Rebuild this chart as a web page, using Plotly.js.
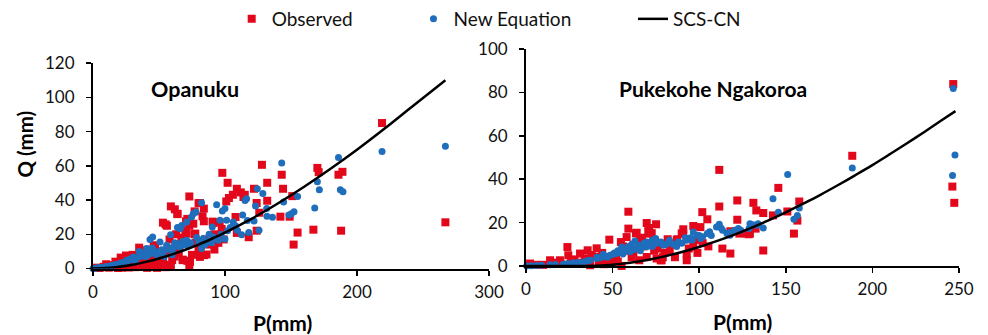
<!DOCTYPE html>
<html><head><meta charset="utf-8">
<script src="https://cdn.plot.ly/plotly-3.0.1.min.js"></script>
<style>html,body{margin:0;padding:0;background:#fff}#chart{width:988px;height:335px}</style>
</head><body><div id="chart"></div>
<script>
// ---------- Opanuku (left) ----------
const obsP1 = [219,267,128,98,102,143,132,144,109,115,106,103,101,132,151,170,171,186,189,167,188,155,152,142,149,126,124,122,124,118,109,108,112,114,
  73,59,62,64,53,56,81,84,83,84,70.5,76,73,70,77.5,71,91,97.5,92,84,86,81,73.5,73,68,35,41,46,21,25,53,77,71.5,77,68,71.5,47,53,48.5,90.6,96,80,55,64,
  2,5,8,12,15,18,20,22,25,28,30,32,34,36,38,40,42,44,45,48,50,52,55,57,60,62,65,66,58,63,67,75,78,80,85,88,92,95,99,30,26,17,38,43,24,10,
  14,19,27,31,35,41,46,51,54,33,37,27,42,56,59,62,47];
const obsQ1 = [85,27,60.6,55.9,50.1,54.8,50.1,46.6,46.6,43.1,43.1,41.2,39.2,39.6,42.3,58.8,56.3,54.8,56.5,22.7,22.1,21,14,30.3,30.3,32.6,38.3,46.6,22.1,18.3,20.8,30.1,44.5,41.8,
  42.1,36.3,34.6,31.8,26.8,25,38.3,35,30.5,27.6,27.6,26.2,25,22.3,20.4,20.4,26.6,23.1,11.1,7.8,8.2,6.8,3.9,1,4.9,12.2,10.7,13.6,6.4,7.6,1,33.4,29,20,5.2,4.5,12.6,3.6,0.4,27.4,27,38.2,25.8,32,
  0.5,0.3,1,0.5,2,1.2,3,0.5,1.5,4.5,2,0.8,5.5,3,1,2.5,6,1.5,4,2,7,1.5,0.8,9,5,12,9,14,17,20,18,8,15,11,17,14,20,15,17,8,5.5,4,9,8.5,3.5,2.5,
  1,0.3,0.6,3.5,1.8,0.4,2.8,3,2.2,7,6.5,6,11,10,2,7,5.5];
const newP1 = [267,219,186,143,170,171.5,187.4,189.4,168,155,144.4,152.3,150.3,148.5,131.8,131.6,128.7,124.5,123.2,122,125.8,118,112.6,113.4,115.2,116.4,109.3,106.3,101.3,100,98,93.7,96.2,90.4,100,95,91.2,82.3,76,74.7,71,67.2,66,58.8,45.2,43.2,83.6,78.5,82.3,71,63.4,66,55.8,50.8,40.7,35.6,30.6,25.5,20.5,12.9,5.3,
  0,2,8,16,23,28,33,38,42,47,52,57,60,62,69,74,87,97,104,108,117,136,78,64,35,45,50,54,60,88,102,
  4,6,10,14,18,21,26,30,32,36,40,44,48,51,55,58,61,65,68,72,80,85,90];
const newQ1 = [71.5,68.3,64.9,61.7,50.7,46,46,44.9,35.3,42.1,38.8,33.2,32,31.3,30.5,35,43.9,46.6,36.5,27.8,22.3,21,19.8,31.3,39.8,40.8,22.3,27.2,28.2,35,33.6,37.3,28.2,24.3,17.3,16.5,18.4,38.4,32,30.1,27.2,25.2,23.3,19.8,18.4,16.9,17.5,18.1,11.7,16.5,14.6,12.6,13.6,15.5,11.7,8.7,6.8,4.9,2.9,1.4,0.6,
  0,0.2,0.8,2,3.5,5.5,6,9,8,10,11,12,10,15,14,15,16,20,24,25,28,30,33,24,10,12,9,7,8,20,22,
  0.4,0.5,1.2,1.8,2.4,3.2,4.2,5,4.5,7,7,9,8,10,11,12,12.5,13,16,13,15,14,15];
const scsP1 = [0,10,20,30,40,50,60,70,80,90,100,120,140,160,180,200,220,240,267];
const scsQ1 = [0,0.3,1,2.2,3.9,5.9,8.3,11,14,17.4,21,29,38,47.8,58.3,69.4,81.2,93.5,110];

// ---------- Pukekohe Ngakoroa (right) ----------
const obsP2 = [246.7,246.2,247.3,188.4,145.7,142.6,137,137,150.9,157.8,156.7,154.7,133,131.3,132.6,129.3,127.4,122,122,123.2,111.6,111.6,113.4,118,101.8,104.7,105.3,100.7,96.6,96.6,92.8,92.8,90.8,90.8,87,81.8,78.3,75.4,75.1,69.7,71.6,70.6,73.5,69.7,65.4,63.9,65.8,59.1,59.1,58.1,54.8,55.2,48.1,48.5,40.8,40.8,35.6,31.2,23.9,24.4,19.6,13.9,2.3,
  37,45,30,10,128.6,89.9,87.3,72.6,63.5,77.8,71,68,62,52,44,28,16,6,84,98,102,118,20,34,42,50,57,76,80,
  26,33,38,46,53,56,61,67,74,79,83,86,94,99];
const obsQ2 = [83.9,36.6,29.1,50.8,36,23.3,24.4,7.1,25.1,29.7,20.9,14.9,25.6,29.1,17.2,14.9,14.9,30.2,21.3,14.9,44.3,27.4,8,5.7,24.8,21.5,9,17.9,18.4,9,5.1,2.6,16.9,14.9,11.8,12.3,2.6,3.4,19.2,19.8,14.9,16.4,11.8,4.1,2.6,15.3,11.8,25,17.2,13.3,11,0,12.1,2.6,8.1,4.1,7.2,5.7,8.7,4.9,2.6,2.6,1.1,
  0.3,0.8,1,0.5,14.6,15,12.3,15.1,15,2.6,17.5,9,6,5,6,3,1.5,0.5,10,12,10.5,16,1,3.5,2,4,7,8,6,
  2,1.5,5,3,2,9,4,13,7,4,7,4,8,6];
const newP2 = [246.7,247.7,246.3,188.4,151.1,142.6,145.7,157.8,156.7,154.7,137,133.2,129.3,131,128.8,122.6,120.7,117.8,111.6,112.6,113.5,104.7,100.8,98.9,96.6,94.7,92.8,87,82.8,79.3,74.9,72.9,69.7,67.7,62.9,62,58.1,55.2,52.3,48.5,44.6,40.8,37,33.1,27.3,21.6,13.9,6.2,0.4,
  3,9,17,24,30,35,43,46,50,54,56,60,64,66,70,72,76,78,85,90,96,102,107,116,124,134,106,118,
  36,41,47,51,53,57,59,61,65,68,73,75,81,88,92,95,100,110];
const newQ2 = [81.9,51.2,41.7,45.2,42.2,31,24.8,26.7,23.3,21.5,17.5,18.7,19.5,19,17.2,17.2,16.4,14.1,19.2,17.5,16.4,14.9,12.6,14.1,15.6,12.3,11.8,9,11.8,9.5,12.6,11.8,11,8.7,11.5,7.5,7.2,8.7,5.7,4.9,5.4,3.4,2.6,1.8,1.4,0.8,0.5,0.2,0,
  0.1,0.3,0.6,1.1,1.6,2.2,3.8,4.5,5.2,6.2,5.5,6.5,8,7,9,10,10.5,11,10,10.5,12,13.5,14,15,16.5,19.5,15.8,15.5,
  2.5,4,4,6,7,8,9,10,9.5,10.5,9,11.5,10,11,13,13,14,18];
const scsP2 = [0,20,35,40,50,60,70,80,90,100,110,120,130,140,150,160,170,180,190,200,210,220,230,240,248];
const scsQ2 = [0,0,0,0.1,0.5,1.4,2.7,4.4,6.4,8.7,11.4,14.3,17.5,21,24.7,28.7,32.8,37.2,41.8,46.5,51.5,56.6,61.8,67.2,71.4];

const xTicks1 = [0,100,200,300], yTicks1 = [0,20,40,60,80,100,120];
const xTicks2 = [0,50,100,150,200,250], yTicks2 = [0,20,40,60,80,100];
const names = ['Observed','New Equation','SCS-CN'];
const panelTitles = ['Opanuku','Pukekohe Ngakoroa'];
const xTitle = 'P(mm)', yTitle = 'Q (mm)';

const RED = '#E2071A', BLUE = '#1F6EBC';
const FONT = 'Lato, "Open Sans", "DejaVu Sans", sans-serif';

function pts(x, y, name, sym, col, size, xa, ya, leg, show) {
  return {x, y, type:'scatter', mode:'markers', name, xaxis:xa, yaxis:ya, legend:leg, showlegend:show,
    cliponaxis:false, marker:{symbol:sym, color:col, size, line:{width:0}}};
}
function line(x, y, name, xa, ya, leg, show) {
  return {x, y, type:'scatter', mode:'lines', name, xaxis:xa, yaxis:ya, legend:leg, showlegend:show,
    cliponaxis:false, line:{color:'#000', width:2.5, shape:'spline', smoothing:0.8}};
}
const data = [
  pts(obsP1, obsQ1, names[0], 'square', RED, 8, 'x', 'y', 'legend', true),
  pts(newP1, newQ1, names[1], 'circle', BLUE, 7, 'x', 'y', 'legend2', true),
  line(scsP1, scsQ1, names[2], 'x', 'y', 'legend3', true),
  pts(obsP2, obsQ2, names[0], 'square', RED, 8, 'x2', 'y2', 'legend', false),
  pts(newP2, newQ2, names[1], 'circle', BLUE, 7, 'x2', 'y2', 'legend2', false),
  line(scsP2, scsQ2, names[2], 'x2', 'y2', 'legend3', false)
];

const axBase = {showline:true, linecolor:'#000', linewidth:2, ticks:'outside', ticklen:5, tickwidth:1.5,
  tickcolor:'#000', showgrid:false, zeroline:false, fixedrange:true, tickfont:{size:17, color:'#111'}};
const legBase = {orientation:'h', yanchor:'middle', xanchor:'left', y:0.946, bgcolor:'rgba(0,0,0,0)',
  borderwidth:0, font:{size:19, color:'#111', family:FONT}};

const layout = {
  width:988, height:335, margin:{l:0,r:0,t:0,b:0},
  paper_bgcolor:'#fff', plot_bgcolor:'#fff',
  font:{family:FONT, size:16, color:'#000'},
  showlegend:true,
  xaxis:Object.assign({}, axBase, {domain:[0.0941,0.4949], range:[0,300], tickvals:xTicks1, anchor:'y', ticklabelstandoff:2}),
  yaxis:Object.assign({}, axBase, {domain:[0.199,0.814], range:[0,120], tickvals:yTicks1, anchor:'x', ticklabelstandoff:8}),
  xaxis2:Object.assign({}, axBase, {domain:[0.5324,0.9706], range:[0,250], tickvals:xTicks2, anchor:'y2', ticklabelstandoff:2}),
  yaxis2:Object.assign({}, axBase, {domain:[0.2069,0.8558], range:[0,100], tickvals:yTicks2, anchor:'x2', ticklabelstandoff:8}),
  legend:Object.assign({}, legBase, {x:0.2345}),
  legend2:Object.assign({}, legBase, {x:0.4185}),
  legend3:Object.assign({}, legBase, {x:0.6407}),
  annotations:[
    {text:panelTitles[0], xref:'paper', yref:'paper', x:0.1508, y:0.737, xanchor:'left', yanchor:'middle', showarrow:false, font:{size:21.5, weight:'bold', color:'#000'}},
    {text:panelTitles[1], xref:'paper', yref:'paper', x:0.6248, y:0.737, xanchor:'left', yanchor:'middle', showarrow:false, font:{size:21, weight:'bold', color:'#000'}},
    {text:xTitle, xref:'paper', yref:'paper', x:0.2864, y:0.0388, xanchor:'center', yanchor:'middle', showarrow:false, font:{size:21, weight:'bold', color:'#000'}},
    {text:xTitle, xref:'paper', yref:'paper', x:0.7515, y:0.0418, xanchor:'center', yanchor:'middle', showarrow:false, font:{size:21, weight:'bold', color:'#000'}},
    {text:yTitle, xref:'paper', yref:'paper', x:0.0253, y:0.573, xanchor:'center', yanchor:'middle', textangle:-90, showarrow:false, font:{size:20.5, weight:'bold', color:'#000'}}
  ]
};
Plotly.newPlot('chart', data, layout, {displayModeBar:false, staticPlot:true});
</script></body></html>
